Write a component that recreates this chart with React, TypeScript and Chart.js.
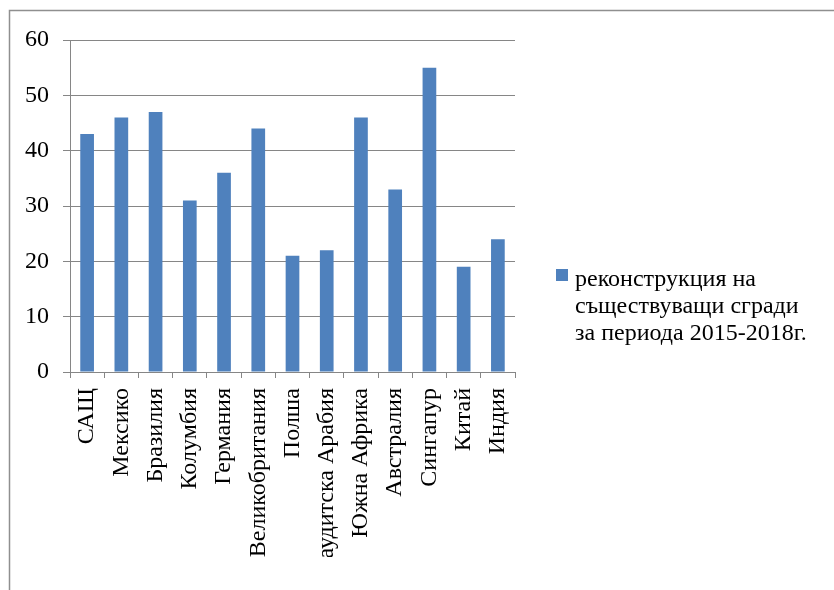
import React, { useEffect, useRef } from "react";
import { Chart, registerables } from "chart.js";

Chart.register(...registerables);

const categories = [
  "САЩ",
  "Мексико",
  "Бразилия",
  "Колумбия",
  "Германия",
  "Великобритания",
  "Полша",
  "Саудитска Арабия",
  "Южна Африка",
  "Австралия",
  "Сингапур",
  "Китай",
  "Индия",
];

const values = [43, 46, 47, 31, 36, 44, 21, 22, 46, 33, 55, 19, 24];

const seriesLabel = ["реконструкция на", "съществуващи сгради", "за периода 2015-2018г."];

const yTicks = [0, 10, 20, 30, 40, 50, 60];

const FONT = "'Liberation Serif', 'Times New Roman', serif";
const FONT_SIZE = 24;
const BAR_COLOR = "#4F81BD";
const GRID_COLOR = "#868686";

// Outer frame around the whole chart object
const framePlugin = {
  id: "frame",
  beforeDraw(chart: any) {
    const ctx = chart.ctx;
    ctx.save();
    ctx.strokeStyle = "#8f8f8f";
    ctx.lineWidth = 1.5;
    ctx.strokeRect(9.5, 10.5, 1000, 1000);
    ctx.restore();
  },
};

// Legend to the right of the plot: a single square marker with wrapped text
const sideLegendPlugin = {
  id: "sideLegend",
  afterDraw(chart: any) {
    const ctx = chart.ctx;
    const ds = chart.data.datasets[0];
    const lines: string[] = ds.legendLines;
    ctx.save();
    ctx.fillStyle = ds.backgroundColor;
    ctx.fillRect(556, 269, 12, 12);
    ctx.fillStyle = "#000";
    ctx.font = `${FONT_SIZE}px ${FONT}`;
    ctx.textBaseline = "alphabetic";
    ctx.textAlign = "left";
    lines.forEach((t, i) => ctx.fillText(t, 575, 286 + i * 27));
    ctx.restore();
  },
};

export default function App() {
  const ref = useRef<HTMLCanvasElement | null>(null);

  useEffect(() => {
    if (!ref.current) return;
    const chart = new Chart(ref.current, {
      type: "bar",
      data: {
        labels: categories,
        datasets: [
          {
            label: seriesLabel.join(" "),
            data: values,
            backgroundColor: BAR_COLOR,
            borderWidth: 0,
            barPercentage: 0.4,
            categoryPercentage: 1,
            legendLines: seriesLabel,
          } as any,
        ],
      },
      options: {
        animation: false,
        responsive: false,
        maintainAspectRatio: false,
        layout: { padding: { left: 0, top: 40, right: 319, bottom: 33 } },
        plugins: {
          legend: { display: false },
          tooltip: { enabled: false },
        },
        scales: {
          x: {
            offset: true,
            grid: {
              offset: true,
              drawOnChartArea: false,
              drawTicks: true,
              tickLength: 6,
              color: GRID_COLOR,
            },
            border: { display: false },
            ticks: {
              autoSkip: false,
              minRotation: 90,
              maxRotation: 90,
              padding: 10,
              color: "#000",
              font: { family: FONT, size: FONT_SIZE },
            },
            afterFit(scale: any) {
              scale.height = 185;
            },
          },
          y: {
            min: 0,
            max: 60,
            afterBuildTicks(scale: any) {
              scale.ticks = yTicks.map((v) => ({ value: v }));
            },
            grid: {
              color: GRID_COLOR,
              lineWidth: 1,
              drawTicks: true,
              tickLength: 7,
            },
            border: { display: true, color: GRID_COLOR, width: 1 },
            ticks: {
              padding: 14,
              color: "#000",
              font: { family: FONT, size: FONT_SIZE },
            },
            afterFit(scale: any) {
              scale.width = 70;
            },
          },
        },
      },
      plugins: [framePlugin, sideLegendPlugin],
    });
    return () => chart.destroy();
  }, []);

  return (
    <div style={{ position: "fixed", left: 0, top: 0, width: 834, height: 590, background: "#fff" }}>
      <canvas ref={ref} width={834} height={590} style={{ display: "block" }} />
    </div>
  );
}
